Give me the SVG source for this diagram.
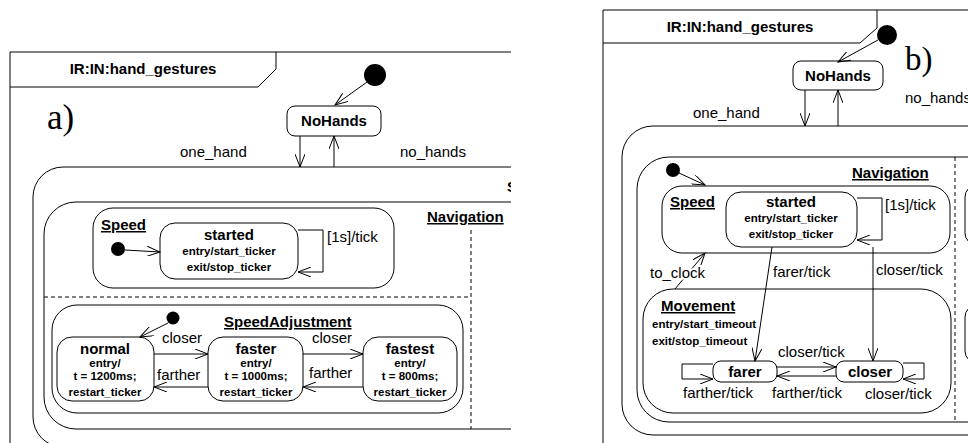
<svg xmlns="http://www.w3.org/2000/svg" width="968" height="443" viewBox="0 0 968 443">
<style>
text{font-family:"Liberation Sans",Arial,sans-serif;fill:#000}
.b{font-weight:bold;font-size:15px}
.s{font-weight:bold;font-size:11.5px}
.n{font-size:15px}
.u{text-decoration:underline}
.m{text-anchor:middle}
.serif{font-family:"Liberation Serif","Times New Roman",serif;font-size:35px}
.ln{fill:none;stroke:#000;stroke-width:1}
.st{fill:#fff;stroke:#000;stroke-width:1}
.dash{fill:none;stroke:#000;stroke-width:1;stroke-dasharray:4 3}
.ar{fill:none;stroke:#000;stroke-width:1;marker-end:url(#arr)}
.halo{paint-order:stroke;stroke:#fff;stroke-width:4px}
</style>
<defs>
<marker id="arr" markerWidth="14" markerHeight="10" refX="13" refY="5" orient="auto" markerUnits="userSpaceOnUse">
<path d="M0,0 L13,5 L0,10" fill="none" stroke="#000" stroke-width="1"/>
</marker>
<clipPath id="clipA"><rect x="0" y="0" width="511" height="443"/></clipPath>
</defs>
<rect width="968" height="443" fill="#fff"/>

<!-- PANEL A -->
<g id="panelA" clip-path="url(#clipA)">
<g id="a-frame">
<path class="ln" d="M10,443 V52 H600"/>
<path class="ln" d="M10,87 H258 L276,69 V52"/>
<text class="b m" x="143" y="74">IR:IN:hand_gestures</text>
<text class="serif" x="47" y="129">a)</text>
</g>
<g id="a-init"><circle cx="375" cy="75" r="11" fill="#000"/></g>
<g id="a-nohands"><rect class="st" x="287" y="106" width="94" height="30" rx="8"/><text class="b m" x="334" y="126">NoHands</text></g>
<g id="a-session"><rect class="ln" x="33" y="167" width="600" height="280" rx="30"/><text class="b" x="507" y="192">S</text></g>
<g id="a-navigation"><rect class="ln" x="44" y="202" width="600" height="227" rx="32"/><text class="b u" x="427" y="222">Navigation</text>
<path class="dash" d="M471,230 V429 M44,297 H471"/></g>
<g id="a-speed"><rect class="ln" x="93" y="208" width="301" height="80" rx="20"/><text class="b u" x="101" y="230">Speed</text>
<circle cx="118" cy="249" r="7" fill="#000"/></g>
<g id="a-started"><rect class="st" x="160" y="223" width="138" height="56" rx="15"/>
<text class="b m" x="229" y="240">started</text><text class="s m" x="229" y="255">entry/start_ticker</text><text class="s m" x="229" y="271">exit/stop_ticker</text></g>
<g id="a-speedadj"><rect class="ln" x="52" y="305" width="411" height="108" rx="25"/><text class="b u" x="224" y="327">SpeedAdjustment</text>
<circle cx="173" cy="318" r="6.5" fill="#000"/></g>
<g id="a-normal"><rect class="st" x="57" y="337" width="97" height="64" rx="15"/>
<text class="b m" x="105" y="354">normal</text><text class="s m" x="105" y="367">entry/</text><text class="s m" x="105" y="380">t = 1200ms;</text><text class="s m" x="105" y="396">restart_ticker</text></g>
<g id="a-faster"><rect class="st" x="208" y="337" width="95" height="64" rx="15"/>
<text class="b m" x="256" y="354">faster</text><text class="s m" x="256" y="367">entry/</text><text class="s m" x="256" y="380">t = 1000ms;</text><text class="s m" x="256" y="396">restart_ticker</text></g>
<g id="a-fastest"><rect class="st" x="363" y="337" width="94" height="64" rx="15"/>
<text class="b m" x="410" y="354">fastest</text><text class="s m" x="410" y="367">entry/</text><text class="s m" x="410" y="380">t = 800ms;</text><text class="s m" x="410" y="396">restart_ticker</text></g>
<g id="a-connectors">
<line class="ar" x1="367" y1="82" x2="335" y2="105"/>
<line class="ar" x1="300" y1="136" x2="300" y2="167"/>
<line class="ar" x1="334" y1="167" x2="334" y2="136"/>
<text class="n" x="180" y="157">one_hand</text>
<text class="n" x="400" y="157">no_hands</text>
<line class="ar" x1="125" y1="250" x2="160" y2="252"/>
<path class="ar" d="M298,230 H323 V272 H298"/>
<text class="n" x="327" y="242">[1s]/tick</text>
<line class="ar" x1="168" y1="323" x2="140" y2="337"/>
<line class="ar" x1="154" y1="354" x2="208" y2="354"/>
<line class="ar" x1="208" y1="387" x2="154" y2="387"/>
<line class="ar" x1="303" y1="354" x2="363" y2="354"/>
<line class="ar" x1="363" y1="387" x2="303" y2="387"/>
<text class="n" x="162" y="343">closer</text>
<text class="n" x="157" y="380">farther</text>
<text class="n" x="312" y="343">closer</text>
<text class="n" x="309" y="378">farther</text>
</g>
</g>

<!-- PANEL B -->
<g id="panelB">
<g id="b-frame">
<path class="ln" d="M603,443 V10 H968"/>
<path class="ln" d="M603,43 H860 L877,28 V10"/>
<text class="b m" x="740" y="32">IR:IN:hand_gestures</text>
<text class="serif" x="905" y="70" style="font-size:33px">b)</text>
</g>
<g id="b-init"><circle cx="887" cy="35" r="10" fill="#000"/></g>
<g id="b-nohands"><rect class="st" x="793" y="61" width="90" height="29" rx="8"/><text class="b m" x="838" y="81">NoHands</text></g>
<g id="b-session"><rect class="ln" x="622" y="126" width="500" height="309" rx="31"/></g>
<g id="b-navigation"><rect class="ln" x="637" y="157" width="500" height="265" rx="32"/><text class="b u" x="852" y="178">Navigation</text>
<path class="dash" d="M955,157 V422"/>
<circle cx="673" cy="170" r="7" fill="#000"/>
<rect class="ln" x="965" y="185" width="40" height="60" rx="12"/>
<rect class="ln" x="965" y="305" width="40" height="58" rx="12"/></g>
<g id="b-speed"><rect class="ln" x="662" y="186" width="288" height="67" rx="20"/><text class="b u" x="670" y="207">Speed</text></g>
<g id="b-started"><rect class="st" x="726" y="192" width="131" height="55" rx="15"/>
<text class="b m" x="791" y="207">started</text><text class="s m" x="791" y="222">entry/start_ticker</text><text class="s m" x="791" y="238">exit/stop_ticker</text></g>
<g id="b-movement"><rect class="ln" x="643" y="289" width="308" height="124" rx="30"/><text class="b u" x="661" y="311">Movement</text>
<text class="s" x="652" y="328">entry/start_timeout</text><text class="s" x="652" y="345">exit/stop_timeout</text></g>
<g id="b-farer"><rect class="st" x="713" y="361" width="64" height="21" rx="8"/><text class="b m" x="745" y="377">farer</text></g>
<g id="b-closer"><rect class="st" x="836" y="361" width="67" height="21" rx="8"/><text class="b m" x="870" y="377">closer</text></g>
<g id="b-connectors">
<line class="ar" x1="878" y1="40" x2="838" y2="62"/>
<line class="ar" x1="805" y1="90" x2="805" y2="126"/>
<line class="ar" x1="838" y1="126" x2="838" y2="90"/>
<text class="n" x="693" y="118">one_hand</text>
<text class="n" x="905" y="103">no_hands</text>
<line class="ar" x1="679" y1="173" x2="705" y2="185"/>
<path class="ar" d="M857,198 H882 V240 H857"/>
<text class="n" x="885" y="210">[1s]/tick</text>
<line class="ar" x1="675" y1="289" x2="705" y2="253"/>
<text class="n halo" x="650" y="278">to_clock</text>
<line class="ar" x1="772" y1="247" x2="755" y2="361"/>
<text class="n" x="773" y="277">farer/tick</text>
<line class="ar" x1="873" y1="247" x2="873" y2="361"/>
<text class="n" x="876" y="275">closer/tick</text>
<path class="ar" d="M713,364 H682 V379 H713"/>
<text class="n" x="683" y="398">farther/tick</text>
<line class="ar" x1="777" y1="367" x2="836" y2="367"/>
<text class="n" x="778" y="357">closer/tick</text>
<line class="ar" x1="836" y1="376" x2="777" y2="376"/>
<text class="n" x="772" y="398">farther/tick</text>
<path class="ar" d="M903,363 H924 V379 H903"/>
<text class="n" x="865" y="399">closer/tick</text>
</g>
</g>
</svg>
